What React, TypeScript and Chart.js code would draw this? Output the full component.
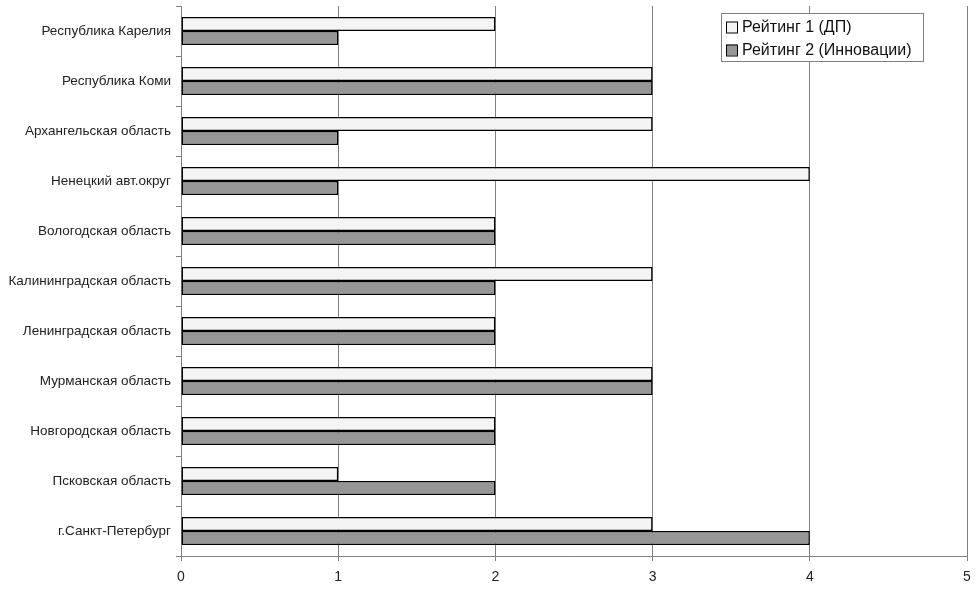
import React, { useEffect, useRef } from "react";
import { Chart, registerables } from "chart.js";

Chart.register(...registerables);

const categories = [
  "Республика Карелия",
  "Республика Коми",
  "Архангельская область",
  "Ненецкий авт.округ",
  "Вологодская область",
  "Калининградская область",
  "Ленинградская область",
  "Мурманская область",
  "Новгородская область",
  "Псковская область",
  "г.Санкт-Петербург",
];
const rating1 = [2, 3, 3, 4, 2, 3, 2, 3, 2, 1, 3];
const rating2 = [1, 3, 1, 1, 2, 2, 2, 3, 2, 2, 4];
const seriesNames = ["Рейтинг 1 (ДП)", "Рейтинг 2 (Инновации)"];
const xTicks = [0, 1, 2, 3, 4, 5];

const FONT = "'Liberation Sans', Arial, sans-serif";

const legendPlugin = {
  id: "boxLegend",
  afterDraw(chart: any) {
    const ctx = chart.ctx;
    const x = 721, y = 13, w = 202, h = 48;
    ctx.save();
    ctx.fillStyle = "#ffffff";
    ctx.fillRect(x, y, w, h);
    ctx.strokeStyle = "#808080";
    ctx.lineWidth = 1;
    ctx.strokeRect(x + 0.5, y + 0.5, w, h);
    ctx.font = `16px ${FONT}`;
    ctx.textBaseline = "middle";
    chart.data.datasets.forEach((ds: any, i: number) => {
      const cy = y + 14 + i * 23;
      ctx.fillStyle = ds.backgroundColor;
      ctx.fillRect(726, cy - 5.5, 11, 11);
      ctx.strokeStyle = "#000";
      ctx.strokeRect(726.5, cy - 5, 11, 11);
      ctx.fillStyle = "#111";
      ctx.textAlign = "left";
      ctx.fillText(ds.label, 742, cy + 1);
    });
    ctx.restore();
  },
};

export default function App() {
  const ref = useRef<HTMLCanvasElement>(null);
  useEffect(() => {
    if (!ref.current) return;
    const chart = new Chart(ref.current, {
      type: "bar",
      data: {
        labels: categories,
        datasets: [
          {
            label: seriesNames[0],
            data: rating1,
            backgroundColor: "#f4f4f4",
            borderColor: "#000000",
            borderWidth: 1.5,
            borderSkipped: false,
            categoryPercentage: 0.56,
            barPercentage: 1,
          },
          {
            label: seriesNames[1],
            data: rating2,
            backgroundColor: "#969696",
            borderColor: "#000000",
            borderWidth: 1.5,
            borderSkipped: false,
            categoryPercentage: 0.56,
            barPercentage: 1,
          },
        ],
      },
      options: {
        indexAxis: "y",
        animation: false,
        responsive: false,
        maintainAspectRatio: false,
        layout: { padding: { left: 0, right: 11, top: 6, bottom: 0 } },
        plugins: {
          legend: { display: false },
          tooltip: { enabled: false },
        },
        scales: {
          x: {
            min: 0,
            max: 5,
            afterBuildTicks: (scale: any) => {
              scale.ticks = xTicks.map((v) => ({ value: v }));
            },
            afterFit: (scale: any) => {
              scale.height = 33;
              scale.paddingLeft = 0;
              scale.paddingRight = 0;
            },
            grid: {
              color: "#808080",
              lineWidth: 1,
              tickLength: 5,
              drawTicks: true,
            },
            border: { color: "#808080", width: 1 },
            ticks: {
              color: "#222",
              font: { family: FONT, size: 14 },
              padding: 8,
            },
          },
          y: {
            afterFit: (scale: any) => {
              scale.width = 181;
              scale.paddingTop = 0;
              scale.paddingBottom = 0;
            },
            grid: {
              drawOnChartArea: false,
              drawTicks: true,
              tickLength: 5,
              color: "#808080",
              offset: true,
            },
            border: { color: "#808080", width: 1 },
            ticks: {
              color: "#222",
              font: { family: FONT, size: 13.5 },
              padding: 5,
              autoSkip: false,
            },
          },
        },
      },
      plugins: [legendPlugin],
    });
    return () => chart.destroy();
  }, []);
  return (
    <div style={{ position: "fixed", left: 0, top: 0, width: 978, height: 589, background: "#fff" }}>
      <canvas ref={ref} width={978} height={589} style={{ width: 978, height: 589 }} />
    </div>
  );
}
